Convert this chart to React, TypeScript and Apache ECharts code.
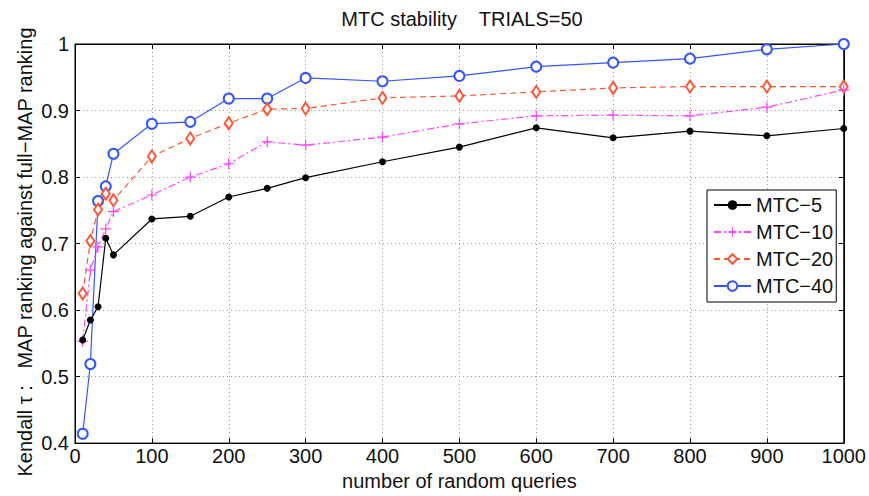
import React, { useEffect, useRef } from "react";
import * as echarts from "echarts";

const queries = [10, 20, 30, 40, 50, 100, 150, 200, 250, 300, 400, 500, 600, 700, 800, 900, 1000];
const mtc5 = [0.555, 0.585, 0.605, 0.708, 0.683, 0.737, 0.741, 0.770, 0.783, 0.799, 0.823, 0.845, 0.874, 0.859, 0.869, 0.862, 0.873];
const mtc10 = [0.553, 0.660, 0.695, 0.722, 0.748, 0.773, 0.800, 0.820, 0.853, 0.848, 0.860, 0.880, 0.892, 0.893, 0.892, 0.905, 0.931];
const mtc20 = [0.625, 0.704, 0.751, 0.775, 0.765, 0.831, 0.858, 0.881, 0.902, 0.903, 0.919, 0.922, 0.928, 0.934, 0.936, 0.936, 0.936];
const mtc40 = [0.414, 0.519, 0.764, 0.786, 0.835, 0.880, 0.883, 0.918, 0.918, 0.949, 0.944, 0.952, 0.966, 0.972, 0.978, 0.992, 1.0];
const seriesNames = ["MTC\u22125", "MTC\u221210", "MTC\u221220", "MTC\u221240"];
const titleText = "MTC stability    TRIALS=50";
const xLabel = "number of random queries";
const yLabel = "Kendall \u03c4 :   MAP ranking against full\u2212MAP ranking";

const FONT = "'Liberation Sans', Arial, Helvetica, sans-serif";
const PLUS = "path://M4.45,0H5.55V4.45H10V5.55H5.55V10H4.45V5.55H0V4.45H4.45Z";

export default function App() {
  const ref = useRef<HTMLDivElement>(null);
  useEffect(() => {
    if (!ref.current) return;
    const chart = echarts.init(ref.current, undefined, { renderer: "svg" });
    const pts = (ys: number[]) => queries.map((q, i) => [q, ys[i]]);
    const gridLine = { show: true, lineStyle: { color: "#9a9a9a", type: [1, 3], width: 1 } };
    const tick = { show: true, inside: true, length: 5, lineStyle: { color: "#000" } };
    const line = { show: true, onZero: false, lineStyle: { color: "#000" } };
    chart.setOption({
      animation: false,
      backgroundColor: "#ffffff",
      textStyle: { fontFamily: FONT },
      graphic: [
        {
          type: "text",
          x: 462,
          y: 19,
          style: { text: titleText, font: `20px ${FONT}`, fill: "#111", textAlign: "center", textVerticalAlign: "middle" },
        },
        {
          type: "text",
          x: 25,
          y: 252,
          rotation: Math.PI / 2,
          style: { text: yLabel, font: `20px ${FONT}`, fill: "#111", textAlign: "center", textVerticalAlign: "middle" },
        },
      ],
      grid: { left: 75, right: 21, top: 44, bottom: 44, show: true, borderColor: "#000", borderWidth: 1 },
      legend: {
        orient: "vertical",
        left: 707,
        top: 190,
        backgroundColor: "#fff",
        borderColor: "#000",
        borderWidth: 1,
        padding: [5, 3, 6, 6],
        itemGap: 7,
        itemWidth: 37,
        itemHeight: 12,
        textStyle: { fontSize: 20, lineHeight: 20, color: "#111", fontFamily: FONT },
        data: seriesNames,
      },
      xAxis: [
        {
          type: "value",
          min: 0,
          max: 1000,
          interval: 100,
          position: "bottom",
          name: xLabel,
          nameLocation: "middle",
          nameGap: 25,
          nameTextStyle: { fontSize: 20, color: "#111", fontFamily: FONT },
          axisLine: line,
          axisTick: tick,
          axisLabel: { fontSize: 20, color: "#111", margin: 3, fontFamily: FONT, formatter: (v: number) => String(v) },
          splitLine: gridLine,
        },
        {
          type: "value",
          min: 0,
          max: 1000,
          interval: 100,
          position: "top",
          axisLine: line,
          axisTick: tick,
          axisLabel: { show: false },
          splitLine: { show: false },
        },
      ],
      yAxis: [
        {
          type: "value",
          min: 0.4,
          max: 1,
          interval: 0.1,
          position: "left",
          axisLine: line,
          axisTick: tick,
          axisLabel: {
            fontSize: 20,
            color: "#111",
            margin: 6,
            fontFamily: FONT,
            formatter: (v: number) => (Math.abs(v - 1) < 1e-9 ? "1" : v.toFixed(1)),
          },
          splitLine: gridLine,
        },
        {
          type: "value",
          min: 0.4,
          max: 1,
          interval: 0.1,
          position: "right",
          axisLine: line,
          axisTick: tick,
          axisLabel: { show: false },
          splitLine: { show: false },
        },
      ],
      series: [
        {
          name: seriesNames[0],
          type: "line",
          data: pts(mtc5),
          symbol: "circle",
          symbolSize: 7,
          itemStyle: { color: "#000" },
          lineStyle: { color: "#000", width: 1.2 },
          z: 5,
        },
        {
          name: seriesNames[1],
          type: "line",
          data: pts(mtc10),
          symbol: PLUS,
          symbolSize: 11,
          itemStyle: { color: "#ff44ff" },
          lineStyle: { color: "#ff44ff", width: 1.2, type: [7, 3, 2, 3] },
          z: 4,
        },
        {
          name: seriesNames[2],
          type: "line",
          data: pts(mtc20),
          symbol: "emptyDiamond",
          symbolSize: [8, 12],
          itemStyle: { color: "#ff5533", borderWidth: 1 },
          lineStyle: { color: "#ff5533", width: 1.2, type: [6, 4] },
          z: 3,
        },
        {
          name: seriesNames[3],
          type: "line",
          data: pts(mtc40),
          symbol: "emptyCircle",
          symbolSize: 10,
          itemStyle: { color: "#3355ff", borderWidth: 1 },
          lineStyle: { color: "#3355ff", width: 1.2 },
          z: 2,
        },
      ],
    });
    return () => chart.dispose();
  }, []);
  return <div ref={ref} style={{ width: 869, height: 496, position: "absolute", left: 0, top: 0 }} />;
}
